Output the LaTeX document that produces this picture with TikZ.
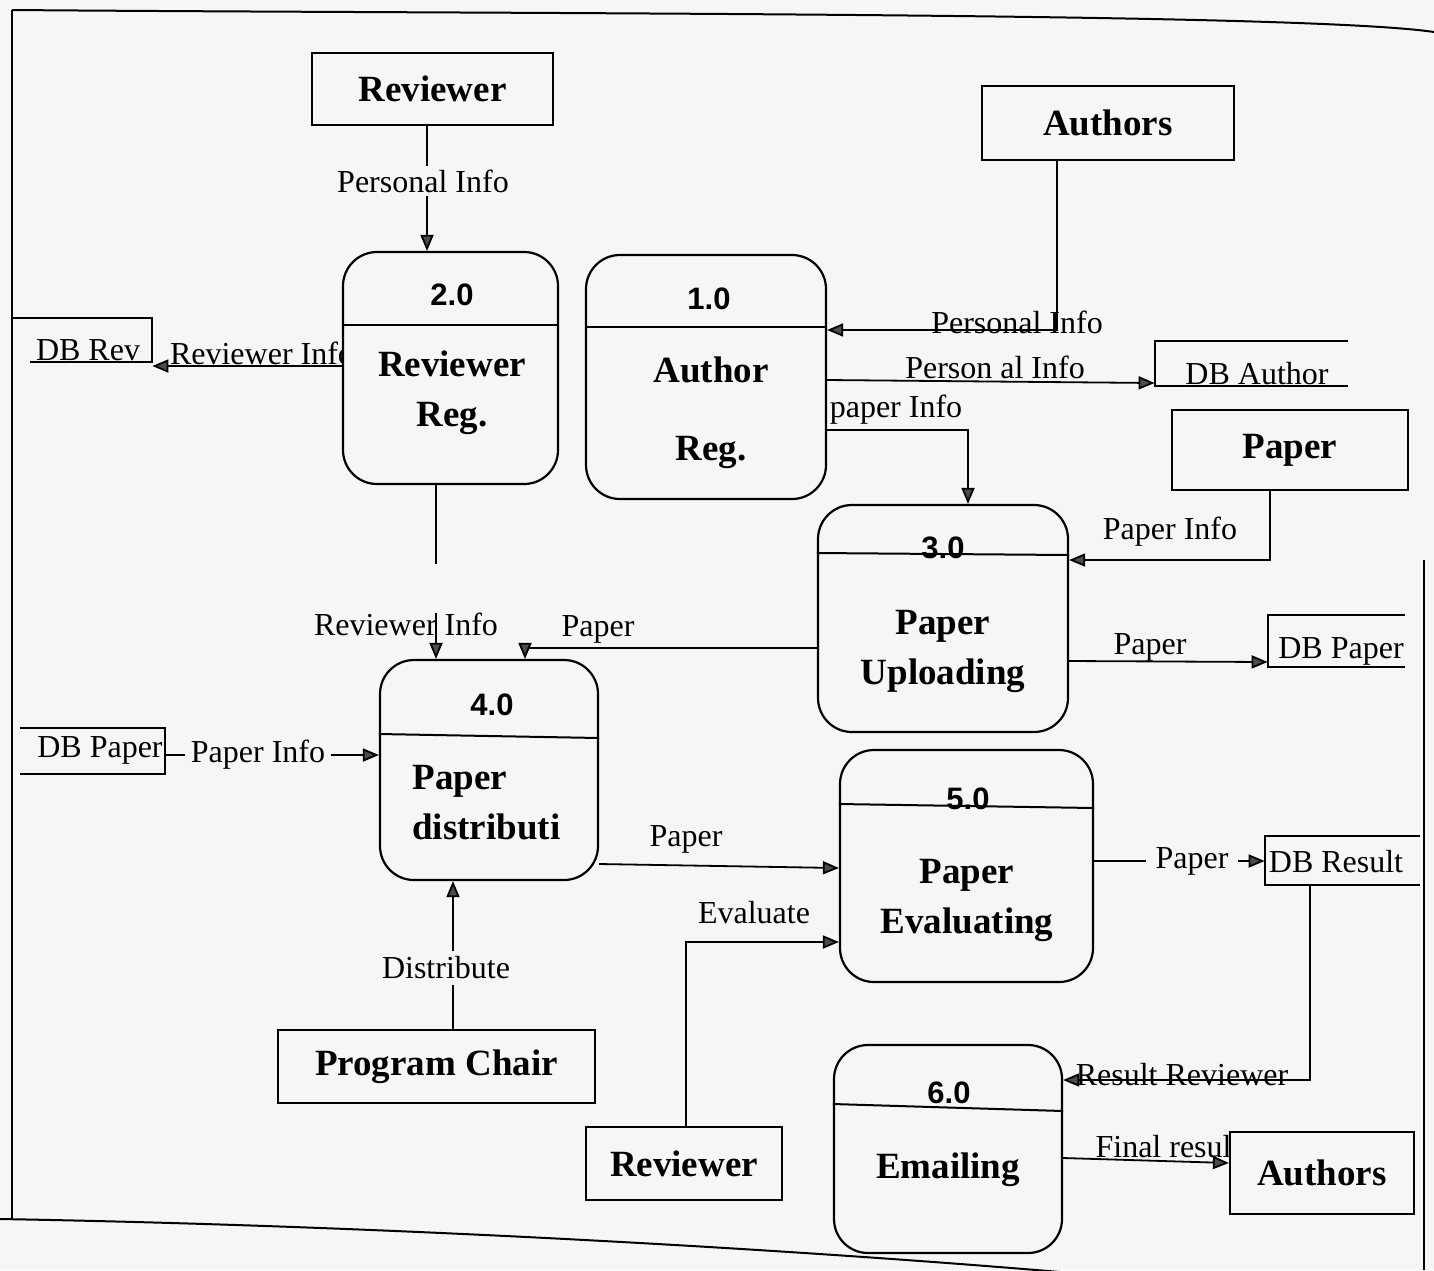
\documentclass[tikz,border=0pt]{standalone}
\usepackage{fontspec}
\setmainfont{Liberation Serif}
\newfontfamily\numfont{Liberation Sans}
\usetikzlibrary{arrows.meta}
\definecolor{paper}{RGB}{246,246,246}
\begin{document}
\begin{tikzpicture}[x=0.5pt,y=-0.5pt,
  ent/.style={draw, line width=1.1pt, fill=paper, inner sep=0pt, font=\bfseries\fontsize{18.5}{22}\selectfont},
  proc/.style={draw, line width=1.1pt, fill=paper, rounded corners=17pt, inner sep=0pt},
  pnum/.style={font=\numfont\bfseries\fontsize{15.5}{18}\selectfont, inner sep=0pt},
  pname/.style={font=\bfseries\fontsize{18.5}{25}\selectfont, align=center, inner sep=0pt},
  lbl/.style={font=\fontsize{16}{18}\selectfont, inner sep=1pt},
  wlbl/.style={lbl, fill=paper, inner sep=3pt},
  store/.style={inner sep=0pt},
  stxt/.style={font=\fontsize{16}{18}\selectfont, inner sep=0pt},
  line/.style={line width=1pt},
  flow/.style={line width=0.9pt, -{Triangle[length=8pt,width=6.5pt,fill=gray!60!black]}},
  framel/.style={line width=1pt},
]
\useasboundingbox (0,0) rectangle (1434,1270);
\fill[paper] (0,0) rectangle (1434,1270);

% frame of the page
\draw[framel] (12,10) .. controls (500,14) and (1300,12) .. (1434,32);
\draw[framel] (12,10) -- (12,1219);
\draw[framel] (0,1219) .. controls (400,1226) and (800,1250) .. (1060,1272);
\draw[framel] (1424,560) -- (1424,1270);

% labels partly hidden behind boxes
\node[lbl] (lrevinfo) at (262,353) {Reviewer Info};
\node[lbl] (lfinal) at (1168,1147) {Final result};

% external entities
\node[ent, minimum width=120.5pt, minimum height=36pt] (rev1) at (432.5,89) {Reviewer};
\node[ent, minimum width=126pt, minimum height=37pt] (auth1) at (1108,123) {Authors};
\node[ent, minimum width=118pt, minimum height=40pt] (paper) at (1290,450) {Paper};
\node[ent, minimum width=158.5pt, minimum height=36.5pt] (chair) at (436.5,1066.5) {Program Chair};
\node[ent, minimum width=98pt, minimum height=36.5pt] (rev2) at (684,1163.5) {Reviewer};
\node[ent, minimum width=92pt, minimum height=41pt] (auth2) at (1322,1173) {Authors};

% processes
\node[proc, minimum width=107.5pt, minimum height=116pt] (p2) at (450.5,368) {};
\node[proc, minimum width=120pt, minimum height=122pt] (p1) at (706,377) {};
\node[proc, minimum width=125pt, minimum height=113.5pt] (p3) at (943,618.5) {};
\node[proc, minimum width=109pt, minimum height=110pt] (p4) at (489,770) {};
\node[proc, minimum width=126.5pt, minimum height=116pt] (p5) at (966.5,866) {};
\node[proc, minimum width=114pt, minimum height=104pt] (p6) at (948,1149) {};

% process dividers
\draw[line] (p2.west |- 0,325) -- (p2.east |- 0,325);
\draw[line] (p1.west |- 0,327) -- (p1.east |- 0,327);
\draw[line] (p3.west |- 0,553) -- (p3.east |- 0,555);
\draw[line] (p4.west |- 0,734) -- (p4.east |- 0,738);
\draw[line] (p5.west |- 0,804) -- (p5.east |- 0,808);
\draw[line] (p6.west |- 0,1104) -- (p6.east |- 0,1111);

% process texts
\node[pnum] (p2n) at (452,295) {2.0};
\node[pname] (p2t) at (452,393) {Reviewer\\Reg.};
\node[pnum] (p1n) at (709,299) {1.0};
\node[pname, font=\bfseries\fontsize{18.5}{39}\selectfont] (p1t) at (711,413) {Author\\Reg.};
\node[pnum] (p3n) at (943,548) {3.0};
\node[pname] (p3t) at (943,651) {Paper\\Uploading};
\node[pnum] (p4n) at (492,705) {4.0};
\node[pname, align=left, anchor=west] (p4t) at (412,803) {Paper\\distributi};
\node[pnum] (p5n) at (968,799) {5.0};
\node[pname] (p5t) at (967,900) {Paper\\Evaluating};
\node[pnum] (p6n) at (949,1093) {6.0};
\node[pname] (p6t) at (948,1170) {Emailing};

% data stores
\node[store, minimum width=70pt, minimum height=22pt] (dbr) at (82,340) {};
\node[store, minimum width=96.5pt, minimum height=22.5pt] (dba) at (1251.5,363.5) {};
\node[store, minimum width=72.5pt, minimum height=23pt] (dbpl) at (92.5,751) {};
\node[store, minimum width=68.5pt, minimum height=26pt] (dbpr) at (1336.5,641) {};
\node[store, minimum width=77.5pt, minimum height=24.5pt] (dbres) at (1342.5,860.5) {};
\draw[line] (dbr.north west) -- (dbr.north east) -- (dbr.south east) -- ++(-122,0);
\draw[line] (dba.north east) -- (dba.north west) -- (dba.south west) -- (dba.south east);
\draw[line] (dbpl.north west) -- (dbpl.north east) -- (dbpl.south east) -- (dbpl.south west);
\draw[line] (dbpr.north east) -- (dbpr.north west) -- (dbpr.south west) -- (dbpr.south east);
\draw[line] (dbres.north east) -- (dbres.north west) -- (dbres.south west) -- (dbres.south east);
\node[stxt] (dbrt) at (88,350) {DB Rev};
\node[stxt] (dbat) at (1257,374) {DB Author};
\node[stxt] (dbplt) at (100,750) {DB Paper};
\node[stxt] (dbprt) at (1341,651) {DB Paper};
\node[stxt] (dbrest) at (1336,862) {DB Result};

% data flows
\draw[flow] (rev1.south -| 427,0) -- (p2.north -| 427,0);
\node[wlbl, inner sep=2pt] (lpers1) at (423,181) {Personal Info};

\draw[flow] (auth1.south -| 1057,0) |- (p1.east |- 0,330);
\node[lbl] (lpers2) at (1017,322) {Personal Info};

\draw[flow] (p1.east |- 0,380) -- (dba.west |- 0,383);
\node[lbl] (lpers3) at (995,367) {Person al Info};

\draw[flow] (p2.west |- 0,366) -- (dbr.east |- 0,366);

\draw[flow] (p1.east |- 0,430) -| (p3.north -| 968,0);
\node[lbl] (lpinfo1) at (896,410) {paper Info};

\draw[flow] (paper.south -| 1270,0) |- (p3.east |- 0,560);
\node[lbl] (lpinfo2) at (1170,532) {Paper Info};

\draw[flow] (p3.west |- 0,648) -| (p4.north -| 525,0);
\node[lbl] (lpap1) at (598,629) {Paper};

\draw[flow] (p3.east |- 0,661) -- (dbpr.west |- 0,662);
\node[lbl] (lpap2) at (1150,647) {Paper};

\draw[flow, dash pattern=on 39.5pt off 24.5pt on 300pt] (p2.south -| 436,0) -- (p4.north -| 436,0);
\node[lbl] (lrevinfo2) at (406,624) {Reviewer Info};

\draw[flow] (dbpl.east |- 0,755) -- (p4.west |- 0,755);
\node[wlbl] (lpinfo3) at (258,755) {Paper Info};

\draw[flow] (chair.north -| 453,0) -- (p4.south -| 453,0);
\node[wlbl] (ldist) at (446,968) {Distribute};

\draw[flow] (p4.east |- 0,864) -- (p5.west |- 0,868);
\node[lbl] (lpap3) at (686,839) {Paper};

\draw[flow] (rev2.north -| 686,0) |- (p5.west |- 0,942);
\node[lbl] (leval) at (754,913) {Evaluate};

\draw[flow] (p5.east |- 0,861) -- (dbres.west |- 0,861);
\node[wlbl, inner sep=5pt] (lpap4) at (1192,861) {Paper};

\draw[flow] (dbres.south -| 1310,0) |- (p6.east |- 0,1080);
\node[lbl] (lresrev) at (1182,1075) {Result Reviewer};

\draw[flow] (p6.east |- 0,1158) -- (auth2.west |- 0,1163);
\end{tikzpicture}
\end{document}
